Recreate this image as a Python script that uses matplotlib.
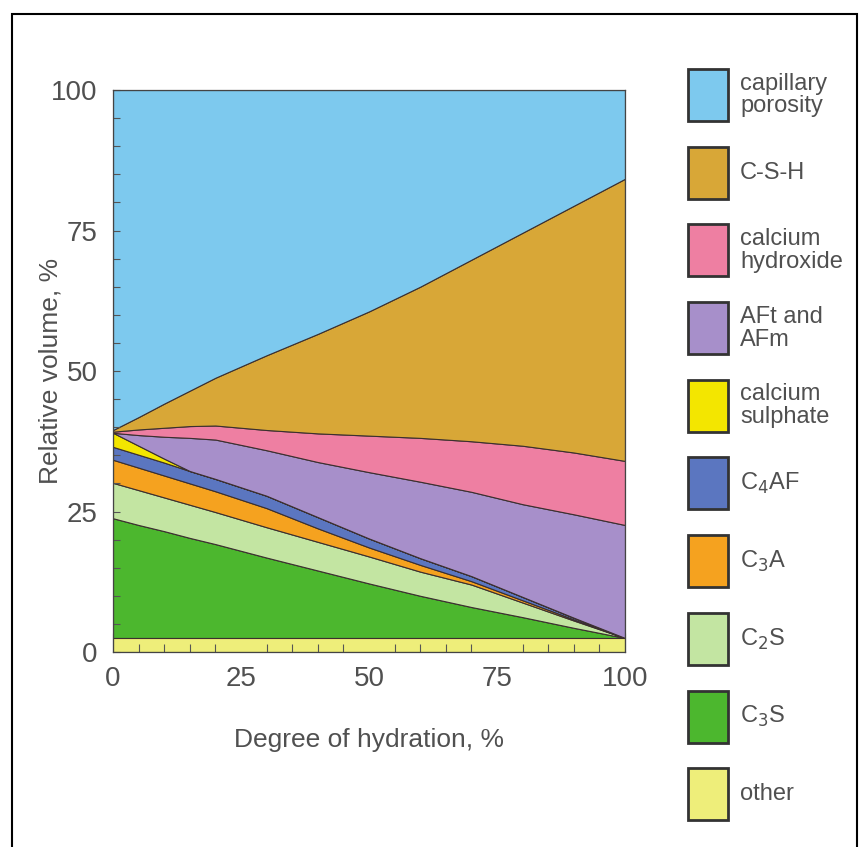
import matplotlib
matplotlib.use('Agg')
import matplotlib.pyplot as plt
from matplotlib.patches import Rectangle
from matplotlib.ticker import MultipleLocator
from matplotlib import font_manager

narrow = [f.name for f in font_manager.fontManager.ttflist if 'Narrow' in f.name]
family = ['Liberation Sans Narrow', 'Liberation Sans'] if narrow else ['Liberation Sans']
plt.rcParams['font.family'] = family + ['DejaVu Sans']
plt.rcParams['mathtext.fontset'] = 'custom'
plt.rcParams['mathtext.rm'] = family[0]

# degree of hydration, %
hydration = [0, 5, 10, 15, 20, 30, 40, 50, 60, 70, 80, 90, 100]

# relative volume of each phase, % (bottom to top)
other = [2.5, 2.5, 2.5, 2.5, 2.5, 2.5, 2.5, 2.5, 2.5, 2.5, 2.5, 2.5, 2.5]
c3s = [21.3, 20.1, 19.0, 17.8, 16.7, 14.3, 12.0, 9.7, 7.5, 5.5, 3.7, 1.8, 0.0]
c2s = [6.3, 6.2, 6.0, 5.9, 5.7, 5.4, 5.1, 4.8, 4.3, 4.0, 2.6, 1.3, 0.0]
c3a = [4.1, 4.0, 3.9, 3.8, 3.7, 3.4, 2.4, 1.6, 1.2, 0.6, 0.4, 0.2, 0.0]
c4af = [2.3, 2.3, 2.3, 2.2, 2.2, 2.2, 2.0, 1.6, 1.2, 0.9, 0.6, 0.3, 0.0]
sulphate = [2.5, 1.6, 0.7, 0.0, 0.0, 0.0, 0.0, 0.0, 0.0, 0.0, 0.0, 0.0, 0.0]
aft_afm = [0.0, 1.9, 3.9, 5.9, 7.0, 8.1, 9.8, 11.8, 13.6, 15.0, 16.5, 18.4, 20.1]
ch = [0.2, 1.0, 1.6, 2.1, 2.5, 3.6, 5.1, 6.5, 7.8, 9.0, 10.4, 11.0, 11.4]
csh = [0.3, 2.2, 4.3, 6.3, 8.5, 13.3, 17.7, 22.1, 26.9, 32.3, 37.9, 43.9, 50.2]
porosity = [60.5, 58.2, 55.8, 53.5, 51.2, 47.2, 43.4, 39.4, 35.0, 30.2, 25.4, 20.6, 15.8]

layers = [other, c3s, c2s, c3a, c4af, sulphate, aft_afm, ch, csh, porosity]
colors = ['#eeee7a', '#4cb72e', '#c3e5a2', '#f5a21f', '#5b76c0',
          '#f3e600', '#a78fca', '#ee7fa2', '#d8a737', '#7dc9ee']

legend_labels = ['capillary\nporosity', 'C-S-H', 'calcium\nhydroxide', 'AFt and\nAFm',
                 'calcium\nsulphate', 'C$_4$AF', 'C$_3$A', 'C$_2$S', 'C$_3$S', 'other']
legend_colors = colors[::-1]

W, H = 867, 847
fig = plt.figure(figsize=(W / 100, H / 100), dpi=100)
ax = fig.add_axes([113 / W, 1 - 652 / H, 512 / W, 562 / H])

ax.stackplot(hydration, *layers, colors=colors, edgecolor='#3b2f2f', linewidth=0.8)

ax.set_xlim(0, 100)
ax.set_ylim(0, 100)
ax.set_xticks([0, 25, 50, 75, 100])
ax.set_yticks([0, 25, 50, 75, 100])
ax.xaxis.set_minor_locator(MultipleLocator(5))
ax.yaxis.set_minor_locator(MultipleLocator(5))
txt = '#505050'
ax.tick_params(axis='x', which='major', length=0, pad=10, labelsize=20, labelcolor=txt)
ax.tick_params(axis='x', which='minor', direction='in', length=6, width=0.8, color='#555555')
ax.tick_params(axis='y', which='both', direction='in', length=5, width=0.8, color='#555555',
               pad=11, labelsize=20, labelcolor=txt)

# longer ticks every 10 % along the bottom band
sec = ax.secondary_xaxis('bottom')
sec.set_xticks(range(0, 101, 10))
sec.tick_params(direction='in', length=14, width=0.8, color='#555555', labelbottom=False)
sec.spines['bottom'].set_visible(False)

for s in ax.spines.values():
    s.set_color('#444444')
    s.set_linewidth(0.9)

ax.set_xlabel('Degree of hydration, %', fontsize=19, color=txt, labelpad=26)
ax.set_ylabel('Relative volume, %', fontsize=19, color=txt)
ax.yaxis.set_label_coords(-0.098, 0.5)

# legend boxes
for i, (lab, col) in enumerate(zip(legend_labels, legend_colors)):
    yc = 95 + i * 77.7
    fig.patches.append(Rectangle((688 / W, 1 - (yc + 26) / H), 40 / W, 52 / H,
                                 transform=fig.transFigure, facecolor=col,
                                 edgecolor='#333333', linewidth=2))
    fig.text(740 / W, 1 - yc / H, lab, fontsize=17, color=txt, va='center', ha='left',
             linespacing=1.05)

# outer frame
fig.patches.append(Rectangle((12 / W, -0.01), 845 / W, 1 - 14 / H + 0.01,
                             transform=fig.transFigure, fill=False,
                             edgecolor='black', linewidth=1.5))

fig.savefig('out.png', dpi=100)
